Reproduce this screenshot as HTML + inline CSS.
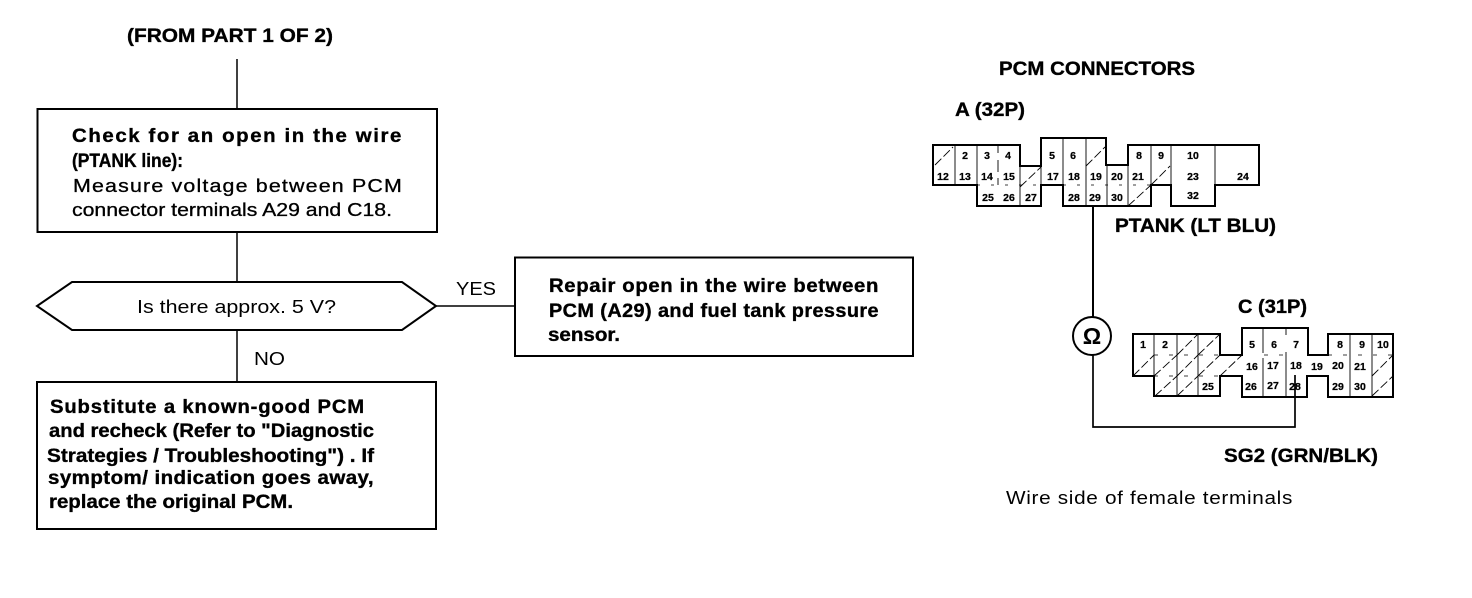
<!DOCTYPE html>
<html><head><meta charset="utf-8"><style>
html,body{margin:0;padding:0;background:#fff;width:1472px;height:598px;overflow:hidden}
svg{display:block}
text{font-family:"Liberation Sans",sans-serif;fill:#000}
.b{font-weight:bold;font-size:19px;stroke:#000;stroke-width:.35px}
.r{font-size:18.5px}
.n text{font-weight:bold;font-size:10.5px;text-anchor:middle;stroke:#000;stroke-width:.25px}
</style></head><body>
<svg width="1472" height="598" viewBox="0 0 1472 598" xmlns="http://www.w3.org/2000/svg">
<g fill="none" stroke="#000" stroke-width="2">
<path d="M237 59V109M237 232V282M237 330V382M436 306H515" stroke-width="1.5"/>
<rect x="37.5" y="109" width="399.5" height="123"/>
<path d="M72 282H402L436 306L402 330H72L37 306Z"/>
<rect x="515" y="257.5" width="398" height="98.5"/>
<rect x="37" y="382" width="399" height="147"/>
</g>
<text class="b" x="127" y="42" textLength="206" lengthAdjust="spacingAndGlyphs">(FROM PART 1 OF 2)</text>
<text class="b" x="72" y="142" textLength="331" lengthAdjust="spacingAndGlyphs" style="letter-spacing:1.5px">Check for an open in the wire</text>
<text class="b" x="72" y="167" textLength="111" lengthAdjust="spacingAndGlyphs">(PTANK line):</text>
<text class="r" x="73" y="192" textLength="330" lengthAdjust="spacingAndGlyphs" stroke="#000" stroke-width=".3" style="letter-spacing:1px">Measure voltage between PCM</text>
<text class="r" x="72" y="216" textLength="320" lengthAdjust="spacingAndGlyphs" stroke="#000" stroke-width=".3">connector terminals A29 and C18.</text>
<text class="r" x="137" y="313" textLength="199" lengthAdjust="spacingAndGlyphs">Is there approx. 5 V?</text>
<text class="r" x="456" y="295" textLength="40" lengthAdjust="spacingAndGlyphs">YES</text>
<text class="r" x="254" y="365" textLength="31" lengthAdjust="spacingAndGlyphs">NO</text>
<text class="b" x="549" y="292" textLength="330" lengthAdjust="spacingAndGlyphs" style="letter-spacing:.6px">Repair open in the wire between</text>
<text class="b" x="549" y="317" textLength="330" lengthAdjust="spacingAndGlyphs" style="letter-spacing:.4px">PCM (A29) and fuel tank pressure</text>
<text class="b" x="548" y="341" textLength="72" lengthAdjust="spacingAndGlyphs">sensor.</text>
<text class="b" x="50" y="413" textLength="315" lengthAdjust="spacingAndGlyphs" style="letter-spacing:.8px">Substitute a known-good PCM</text>
<text class="b" x="49" y="437" textLength="325" lengthAdjust="spacingAndGlyphs">and recheck (Refer to "Diagnostic</text>
<text class="b" x="47" y="462" textLength="327" lengthAdjust="spacingAndGlyphs">Strategies / Troubleshooting") . If</text>
<text class="b" x="48" y="484" textLength="326" lengthAdjust="spacingAndGlyphs" style="letter-spacing:.4px">symptom/ indication goes away,</text>
<text class="b" x="49" y="508" textLength="244" lengthAdjust="spacingAndGlyphs">replace the original PCM.</text>

<text class="b" x="999" y="75" textLength="196" lengthAdjust="spacingAndGlyphs">PCM CONNECTORS</text>
<text class="b" x="955" y="116" textLength="70" lengthAdjust="spacingAndGlyphs">A (32P)</text>
<text class="b" x="1115" y="232" textLength="161" lengthAdjust="spacingAndGlyphs">PTANK (LT BLU)</text>
<text class="b" x="1238" y="313" textLength="69" lengthAdjust="spacingAndGlyphs">C (31P)</text>
<text class="b" x="1224" y="462" textLength="154" lengthAdjust="spacingAndGlyphs">SG2 (GRN/BLK)</text>
<text class="r" x="1006" y="504" textLength="287" lengthAdjust="spacingAndGlyphs" style="letter-spacing:.6px">Wire side of female terminals</text>

<g fill="none" stroke="#000" stroke-width=".9">
<path d="M955 145V185M977 145V185M998 145V153M998 160V172M998 178V185M1020 166V206M1041 166V185M1063 138V206M1086 138V206M1107 165V206M1128 165V206M1151 145V185M1171 145V185M1215 145V185"/>
<path d="M977 185H1041M1063 185H1151" stroke-dasharray="3 11" stroke-width=".8"/>
<path d="M935 165L953 147M1020 187L1041 167M1086 166L1105 147M1151 185L1170 166M1128 206L1151 185" stroke-dasharray="9 3"/>
<path d="M1154 334V396M1177 334V396M1198 334V396M1263 328V353M1263 358V397M1286 328V335M1286 352V397M1350 334V397M1372 334V397"/>
<path d="M1154 355H1220M1264 355H1286M1328 355H1393M1154 376H1220" stroke-dasharray="4 11" stroke-width=".8"/>
<path d="M1133 376L1154 355M1154 376L1177 355M1155 396L1177 376M1177 376L1198 355M1177 355L1198 334M1177 396L1198 376M1198 376L1220 355M1198 355L1220 334M1220 376L1242 355M1372 376L1393 355M1372 396L1393 376" stroke-dasharray="9 3"/>
</g>
<g fill="none" stroke="#000" stroke-width="2">
<path d="M933 145H1020V166H1041V138H1106V165H1128V145H1259V185H1215V206H1171V185H1151V206H1063V185H1041V206H977V185H933Z"/>
<path d="M1133 334H1220V355H1242V328H1308V355H1328V334H1393V397H1328V376H1307V397H1242V376H1220V396H1154V376H1133Z"/>
<path d="M1093 206V317"/>
<circle cx="1092" cy="336" r="19"/>
<path d="M1093 355V427H1295V375" stroke-width="1.7"/>
</g>
<text x="1092" y="344" font-size="23" font-weight="bold" text-anchor="middle">Ω</text>

<g class="n">
<text x="965" y="159">2</text><text x="987" y="159">3</text><text x="1008" y="159">4</text><text x="1052" y="159">5</text><text x="1073" y="159">6</text><text x="1139" y="159">8</text><text x="1161" y="159">9</text><text x="1193" y="159">10</text>
<text x="943" y="180">12</text><text x="965" y="180">13</text><text x="987" y="180">14</text><text x="1009" y="180">15</text><text x="1053" y="180">17</text><text x="1074" y="180">18</text><text x="1096" y="180">19</text><text x="1117" y="180">20</text><text x="1138" y="180">21</text><text x="1193" y="180">23</text><text x="1243" y="180">24</text>
<text x="988" y="201">25</text><text x="1009" y="201">26</text><text x="1031" y="201">27</text><text x="1074" y="201">28</text><text x="1095" y="201">29</text><text x="1117" y="201">30</text><text x="1193" y="199">32</text>
<text x="1143" y="348">1</text><text x="1165" y="348">2</text><text x="1252" y="348">5</text><text x="1274" y="348">6</text><text x="1296" y="348">7</text><text x="1340" y="348">8</text><text x="1362" y="348">9</text><text x="1383" y="348">10</text>
<text x="1252" y="370">16</text><text x="1273" y="369">17</text><text x="1296" y="369">18</text><text x="1317" y="370">19</text><text x="1338" y="369">20</text><text x="1360" y="370">21</text>
<text x="1208" y="390">25</text><text x="1251" y="390">26</text><text x="1273" y="389">27</text><text x="1295" y="390">28</text><text x="1338" y="390">29</text><text x="1360" y="390">30</text>
</g>
</svg>
</body></html>
